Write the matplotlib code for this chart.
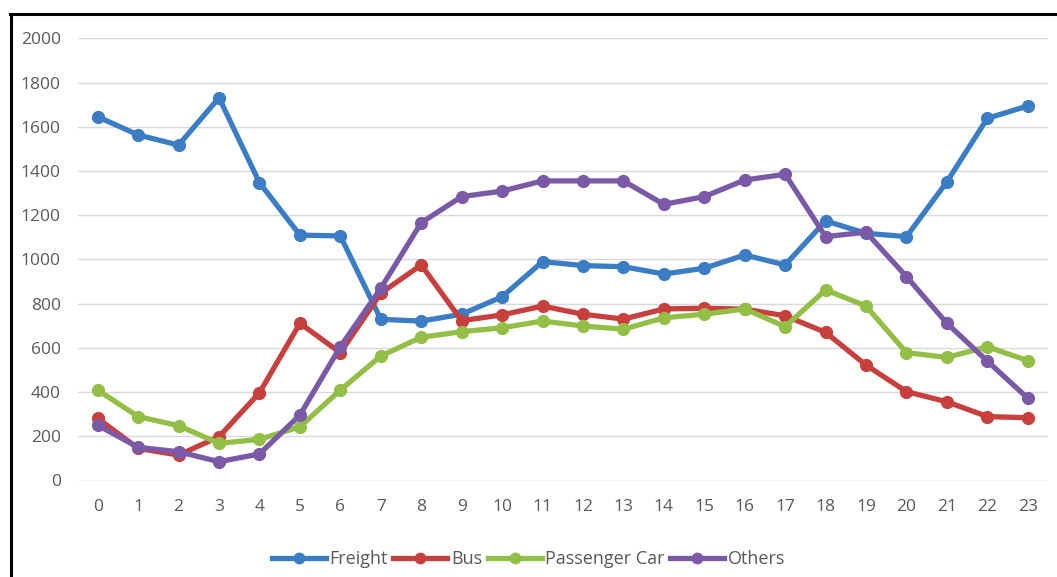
import matplotlib.pyplot as plt
from matplotlib.lines import Line2D

hours = list(range(24))

freight = [1645, 1563, 1517, 1731, 1347, 1110, 1106, 729, 721, 752, 831, 990,
           972, 967, 934, 960, 1020, 975, 1174, 1118, 1103, 1351, 1638, 1694]
bus = [281, 145, 115, 198, 397, 711, 578, 847, 975, 723, 749, 789,
       752, 730, 776, 779, 775, 745, 670, 522, 402, 356, 289, 284]
passenger_car = [409, 289, 248, 168, 186, 243, 409, 563, 648, 673, 691, 721,
                 699, 684, 736, 752, 776, 696, 862, 789, 578, 557, 605, 542]
others = [250, 150, 130, 85, 120, 296, 605, 869, 1166, 1284, 1309, 1355,
          1355, 1355, 1249, 1284, 1359, 1385, 1103, 1123, 922, 711, 540, 372]

series = [
    ("Freight", freight, "#3B7DC4"),
    ("Bus", bus, "#C7403D"),
    ("Passenger Car", passenger_car, "#93BF47"),
    ("Others", others, "#7A5AA6"),
]

plt.rcParams['font.family'] = ['Open Sans', 'DejaVu Sans']
text_color = "#595959"

fig = plt.figure(figsize=(10.57, 5.77), dpi=100)
ax = fig.add_axes([77.5 / 1057, 1 - 480.5 / 577, (1048 - 77.5) / 1057, (480.5 - 38.3) / 577])

for name, vals, col in series:
    ax.plot(hours, vals, color=col, linewidth=3.8, marker='o', markersize=8.5,
            label=name, solid_joinstyle='round')

ax.set_xlim(-0.5, 23.5)
ax.set_ylim(0, 2000)
ax.set_yticks(range(0, 2001, 200))
ax.set_xticks(hours)
ax.grid(axis='y', color='#D9D9D9', linewidth=1.0)
ax.set_axisbelow(True)
for s in ax.spines.values():
    s.set_visible(False)
ax.tick_params(length=0, labelsize=12.5, colors=text_color)
ax.tick_params(axis='x', pad=13)
ax.tick_params(axis='y', pad=12)

handles = [Line2D([], [], color=col, linewidth=3.8, marker='o', markersize=7.5)
           for _, _, col in series]
fig.legend(handles, [s[0] for s in series], loc='center', bbox_to_anchor=(0.5, 1 - 559 / 577),
           ncol=4, frameon=False, fontsize=13, labelcolor=text_color,
           handlelength=3.0, handletextpad=0.2, columnspacing=0.3)

# frame lines along the top and left edges
fig.add_artist(Line2D([10 / 1057, 1], [1 - 14 / 577, 1 - 14 / 577], color='black', linewidth=2.2,
                      transform=fig.transFigure))
fig.add_artist(Line2D([11 / 1057, 11 / 1057], [0, 1 - 14 / 577], color='black', linewidth=2.2,
                      transform=fig.transFigure))

fig.savefig("out.png", dpi=100)
